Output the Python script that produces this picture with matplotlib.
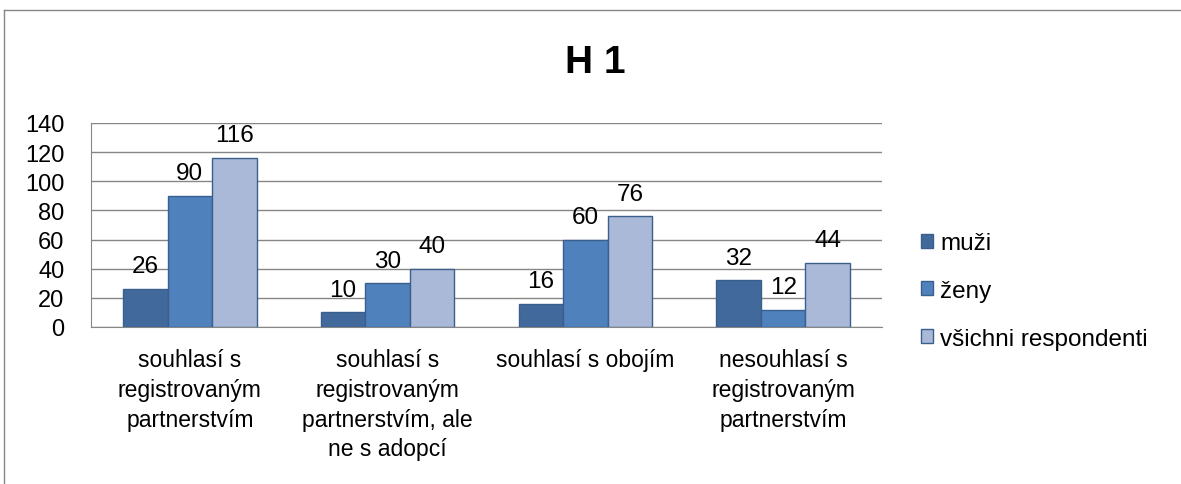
import numpy as np
import matplotlib.pyplot as plt
from matplotlib.lines import Line2D

plt.rcParams['font.family'] = ['Liberation Sans', 'DejaVu Sans']

# data
categories = ['souhlasí s\nregistrovaným\npartnerstvím',
              'souhlasí s\nregistrovaným\npartnerstvím, ale\nne s adopcí',
              'souhlasí s obojím',
              'nesouhlasí s\nregistrovaným\npartnerstvím']
series_names = ['muži', 'ženy', 'všichni respondenti']
muzi = [26, 10, 16, 32]
zeny = [90, 30, 60, 12]
vsichni = [116, 40, 76, 44]
y_ticks = [0, 20, 40, 60, 80, 100, 120, 140]

colors = ['#41699B', '#4F81BD', '#AAB9D7']
edge = '#3A5F8C'

fig = plt.figure(figsize=(11.81, 4.85), dpi=100)
ax = fig.add_axes([91 / 1181, 1 - 328 / 485, (882 - 91) / 1181, (328 - 124) / 485])

x = np.arange(len(categories))
w = 0.225
for k, (vals, name) in enumerate(zip([muzi, zeny, vsichni], series_names)):
    bars = ax.bar(x + (k - 1) * w, vals, w, color=colors[k], edgecolor=edge,
                  linewidth=1, label=name, zorder=3)
    for b, v in zip(bars, vals):
        ax.annotate(str(v), (b.get_x() + b.get_width() / 2, v),
                    xytext=(0, 12), textcoords='offset points',
                    ha='center', va='baseline', fontsize=17.5, zorder=4)

ax.set_xlim(-0.5, 3.5)
ax.set_ylim(0, 140)
ax.set_yticks(y_ticks)
ax.set_xticks(x)
ax.set_xticklabels(categories, fontsize=16.5, linespacing=1.38)
ax.tick_params(axis='y', labelsize=17, length=0, pad=19)
ax.tick_params(axis='x', length=0, pad=15)
ax.grid(axis='y', color='#868686', linewidth=1, zorder=0)
for s in ['top', 'right']:
    ax.spines[s].set_visible(False)
ax.spines['left'].set_color('#868686')
ax.spines['bottom'].set_color('#868686')

fig.text(595 / 1181, 1 - 63 / 485, 'H 1', ha='center', va='center',
         fontsize=28, fontweight='bold')

fig.legend(loc='center left', bbox_to_anchor=(921 / 1181, 1 - 292 / 485),
           frameon=False, fontsize=17.5, handlelength=0.5, handleheight=0.5,
           handletextpad=0.3, labelspacing=1.05, borderpad=0, borderaxespad=0)

# outer chart border
fig.add_artist(Line2D([3.5 / 1181, 3.5 / 1181], [0, 1 - 11 / 485],
                      transform=fig.transFigure, color='#868686', linewidth=1))
fig.add_artist(Line2D([3.5 / 1181, 1], [1 - 11 / 485, 1 - 11 / 485],
                      transform=fig.transFigure, color='#868686', linewidth=1))

fig.savefig('out.png', dpi=100)
